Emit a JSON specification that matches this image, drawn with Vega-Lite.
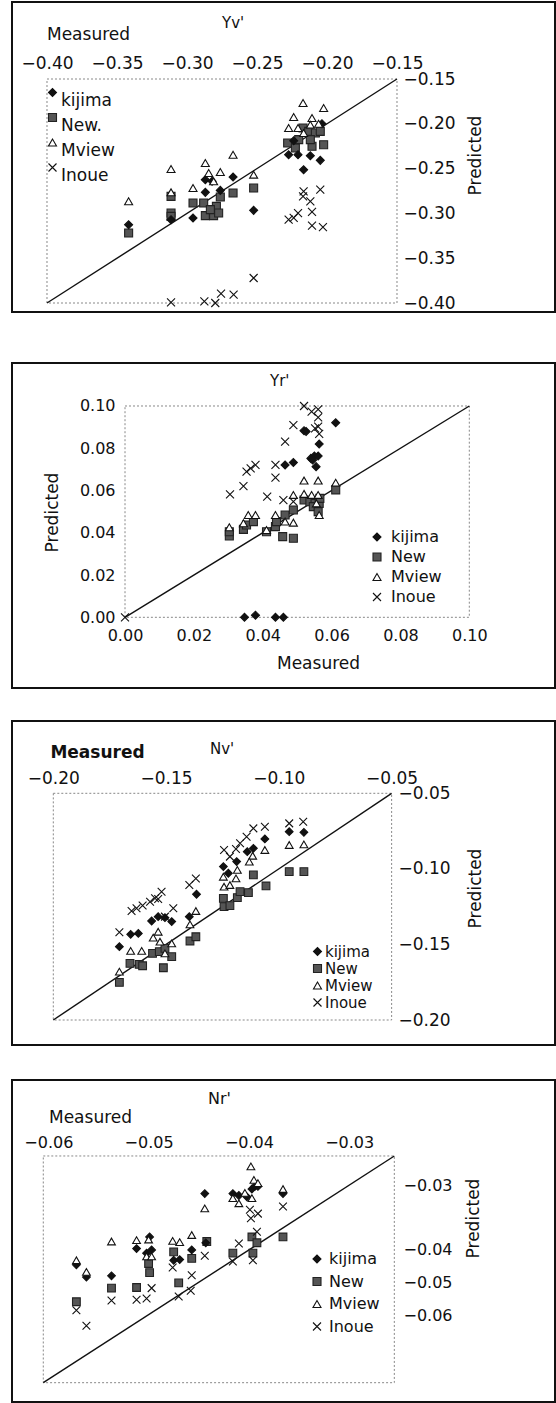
{
"$schema": "https://vega.github.io/schema/vega-lite/v6.json",
"padding": {"left": 11, "top": 1, "right": 0, "bottom": 0},
"background": "white",
"config": {
  "font": "DejaVu Sans",
  "view": {"stroke": "#111", "strokeWidth": 2},
  "axis": {"labelFont": "DejaVu Sans", "titleFont": "DejaVu Sans", "labelColor": "#111", "titleColor": "#111", "grid": false, "domain": false, "ticks": false, "labelFlush": false, "labelOverlap": false, "labelBound": false, "titleFontWeight": "normal", "titlePadding": 0, "format": ".2f"},
  "legend": {"labelFont": "DejaVu Sans", "labelColor": "#111", "padding": 0, "symbolSize": 64, "symbolStrokeWidth": 1.1, "orient": "none"},
  "title": {"font": "DejaVu Sans", "fontWeight": "normal", "color": "#111"}
},
"datasets": {
"p1": [
{"series":"New","measured":-0.3417,"predicted":-0.3219},{"series":"New","measured":-0.3114,"predicted":-0.2810},{"series":"New","measured":-0.3114,"predicted":-0.2996},{"series":"New","measured":-0.3114,"predicted":-0.3033},{"series":"New","measured":-0.2957,"predicted":-0.2884},{"series":"New","measured":-0.2881,"predicted":-0.2884},{"series":"New","measured":-0.2869,"predicted":-0.3025},{"series":"New","measured":-0.2810,"predicted":-0.3025},{"series":"New","measured":-0.2790,"predicted":-0.2921},{"series":"New","measured":-0.2762,"predicted":-0.2817},{"series":"New","measured":-0.2671,"predicted":-0.2772},{"series":"New","measured":-0.2524,"predicted":-0.2717},{"series":"New","measured":-0.2774,"predicted":-0.2996},{"series":"New","measured":-0.2833,"predicted":-0.2958},{"series":"New","measured":-0.2281,"predicted":-0.2214},{"series":"New","measured":-0.2226,"predicted":-0.2270},{"series":"New","measured":-0.2202,"predicted":-0.2177},{"series":"New","measured":-0.2171,"predicted":-0.2047},{"series":"New","measured":-0.2131,"predicted":-0.2084},{"series":"New","measured":-0.2107,"predicted":-0.2251},{"series":"New","measured":-0.2083,"predicted":-0.2103},{"series":"New","measured":-0.2048,"predicted":-0.2084},{"series":"New","measured":-0.2024,"predicted":-0.2233},{"series":"New","measured":-0.2119,"predicted":-0.2177},
{"series":"kijima","measured":-0.3417,"predicted":-0.3126},{"series":"kijima","measured":-0.3114,"predicted":-0.3070},{"series":"kijima","measured":-0.2957,"predicted":-0.3051},{"series":"kijima","measured":-0.2869,"predicted":-0.2624},{"series":"kijima","measured":-0.2869,"predicted":-0.2765},{"series":"kijima","measured":-0.2821,"predicted":-0.2642},{"series":"kijima","measured":-0.2762,"predicted":-0.2743},{"series":"kijima","measured":-0.2671,"predicted":-0.2594},{"series":"kijima","measured":-0.2524,"predicted":-0.2966},{"series":"kijima","measured":-0.2274,"predicted":-0.2345},{"series":"kijima","measured":-0.2207,"predicted":-0.2345},{"series":"kijima","measured":-0.2119,"predicted":-0.2356},{"series":"kijima","measured":-0.2048,"predicted":-0.2408},{"series":"kijima","measured":-0.2167,"predicted":-0.2512},{"series":"kijima","measured":-0.2036,"predicted":-0.1999},{"series":"kijima","measured":-0.2238,"predicted":-0.2190},
{"series":"Mview","measured":-0.3417,"predicted":-0.2865},{"series":"Mview","measured":-0.3114,"predicted":-0.2504},{"series":"Mview","measured":-0.3114,"predicted":-0.2765},{"series":"Mview","measured":-0.2957,"predicted":-0.2717},{"series":"Mview","measured":-0.2869,"predicted":-0.2438},{"series":"Mview","measured":-0.2762,"predicted":-0.2538},{"series":"Mview","measured":-0.2810,"predicted":-0.2642},{"series":"Mview","measured":-0.2845,"predicted":-0.2549},{"series":"Mview","measured":-0.2671,"predicted":-0.2345},{"series":"Mview","measured":-0.2524,"predicted":-0.2568},{"series":"Mview","measured":-0.2274,"predicted":-0.2047},{"series":"Mview","measured":-0.2238,"predicted":-0.1924},{"series":"Mview","measured":-0.2171,"predicted":-0.1768},{"series":"Mview","measured":-0.2207,"predicted":-0.2047},{"series":"Mview","measured":-0.2107,"predicted":-0.1935},{"series":"Mview","measured":-0.2119,"predicted":-0.2010},{"series":"Mview","measured":-0.2024,"predicted":-0.1824},{"series":"Mview","measured":-0.2060,"predicted":-0.1999},{"series":"Mview","measured":-0.2167,"predicted":-0.2103},
{"series":"Inoue","measured":-0.3114,"predicted":-0.3993},{"series":"Inoue","measured":-0.2876,"predicted":-0.3981},{"series":"Inoue","measured":-0.2798,"predicted":-0.4000},{"series":"Inoue","measured":-0.2757,"predicted":-0.3896},{"series":"Inoue","measured":-0.2667,"predicted":-0.3907},{"series":"Inoue","measured":-0.2524,"predicted":-0.3721},{"series":"Inoue","measured":-0.2274,"predicted":-0.3070},{"series":"Inoue","measured":-0.2238,"predicted":-0.3051},{"series":"Inoue","measured":-0.2207,"predicted":-0.2996},{"series":"Inoue","measured":-0.2167,"predicted":-0.2754},{"series":"Inoue","measured":-0.2171,"predicted":-0.2810},{"series":"Inoue","measured":-0.2119,"predicted":-0.2865},{"series":"Inoue","measured":-0.2107,"predicted":-0.2984},{"series":"Inoue","measured":-0.2107,"predicted":-0.3137},{"series":"Inoue","measured":-0.2048,"predicted":-0.2735},{"series":"Inoue","measured":-0.2029,"predicted":-0.3152}
],
"p2": [
{"series":"New","measured":0.0303,"predicted":0.0385},{"series":"New","measured":0.0303,"predicted":0.0405},{"series":"New","measured":0.0344,"predicted":0.0416},{"series":"New","measured":0.0353,"predicted":0.0437},{"series":"New","measured":0.0373,"predicted":0.0453},{"series":"New","measured":0.0411,"predicted":0.0405},{"series":"New","measured":0.0437,"predicted":0.0429},{"series":"New","measured":0.0440,"predicted":0.0453},{"series":"New","measured":0.0465,"predicted":0.0484},{"series":"New","measured":0.0458,"predicted":0.0382},{"series":"New","measured":0.0489,"predicted":0.0374},{"series":"New","measured":0.0489,"predicted":0.0508},{"series":"New","measured":0.0520,"predicted":0.0555},{"series":"New","measured":0.0537,"predicted":0.0547},{"series":"New","measured":0.0552,"predicted":0.0539},{"series":"New","measured":0.0547,"predicted":0.0524},{"series":"New","measured":0.0561,"predicted":0.0500},{"series":"New","measured":0.0564,"predicted":0.0539},{"series":"New","measured":0.0566,"predicted":0.0563},{"series":"New","measured":0.0612,"predicted":0.0603},
{"series":"kijima","measured":0.0347,"predicted":0.0},{"series":"kijima","measured":0.0379,"predicted":0.001},{"series":"kijima","measured":0.0437,"predicted":0.0},{"series":"kijima","measured":0.0460,"predicted":0.0},{"series":"kijima","measured":0.0465,"predicted":0.0721},{"series":"kijima","measured":0.0489,"predicted":0.0733},{"series":"kijima","measured":0.0520,"predicted":0.0883},{"series":"kijima","measured":0.0526,"predicted":0.0879},{"series":"kijima","measured":0.0540,"predicted":0.0752},{"series":"kijima","measured":0.0550,"predicted":0.0763},{"series":"kijima","measured":0.0555,"predicted":0.0713},{"series":"kijima","measured":0.0561,"predicted":0.0763},{"series":"kijima","measured":0.0564,"predicted":0.0820},{"series":"kijima","measured":0.0612,"predicted":0.0921},{"series":"kijima","measured":0.0545,"predicted":0.0745},
{"series":"Mview","measured":0.0303,"predicted":0.0426},{"series":"Mview","measured":0.0344,"predicted":0.0445},{"series":"Mview","measured":0.0358,"predicted":0.0484},{"series":"Mview","measured":0.0379,"predicted":0.0484},{"series":"Mview","measured":0.0437,"predicted":0.0484},{"series":"Mview","measured":0.0465,"predicted":0.0453},{"series":"Mview","measured":0.0489,"predicted":0.0448},{"series":"Mview","measured":0.0489,"predicted":0.0579},{"series":"Mview","measured":0.0520,"predicted":0.0647},{"series":"Mview","measured":0.0561,"predicted":0.0647},{"series":"Mview","measured":0.0520,"predicted":0.0584},{"series":"Mview","measured":0.0542,"predicted":0.0579},{"series":"Mview","measured":0.0561,"predicted":0.0579},{"series":"Mview","measured":0.0564,"predicted":0.0484},{"series":"Mview","measured":0.0612,"predicted":0.0637},{"series":"Mview","measured":0.0556,"predicted":0.0539},{"series":"Mview","measured":0.0411,"predicted":0.0413},
{"series":"Inoue","measured":0.0305,"predicted":0.0582},{"series":"Inoue","measured":0.0344,"predicted":0.0621},{"series":"Inoue","measured":0.0353,"predicted":0.0689},{"series":"Inoue","measured":0.0365,"predicted":0.0705},{"series":"Inoue","measured":0.0379,"predicted":0.0721},{"series":"Inoue","measured":0.0413,"predicted":0.0571},{"series":"Inoue","measured":0.0437,"predicted":0.0721},{"series":"Inoue","measured":0.0437,"predicted":0.0661},{"series":"Inoue","measured":0.0465,"predicted":0.0831},{"series":"Inoue","measured":0.0460,"predicted":0.0555},{"series":"Inoue","measured":0.0489,"predicted":0.0910},{"series":"Inoue","measured":0.0489,"predicted":0.0547},{"series":"Inoue","measured":0.0520,"predicted":0.1000},{"series":"Inoue","measured":0.0542,"predicted":0.0973},{"series":"Inoue","measured":0.0561,"predicted":0.0984},{"series":"Inoue","measured":0.0561,"predicted":0.0946},{"series":"Inoue","measured":0.0552,"predicted":0.0894},{"series":"Inoue","measured":0.0564,"predicted":0.0868},{"series":"Inoue","measured":0.0561,"predicted":0.0902},{"series":"Inoue","measured":0.0,"predicted":0.0}
],
"p3": [
{"series":"New","measured":-0.1707,"predicted":-0.1751},{"series":"New","measured":-0.1660,"predicted":-0.1625},{"series":"New","measured":-0.1619,"predicted":-0.1632},{"series":"New","measured":-0.1604,"predicted":-0.1641},{"series":"New","measured":-0.1560,"predicted":-0.1559},{"series":"New","measured":-0.1530,"predicted":-0.1548},{"series":"New","measured":-0.1512,"predicted":-0.1654},{"series":"New","measured":-0.1505,"predicted":-0.1526},{"series":"New","measured":-0.1475,"predicted":-0.1581},{"series":"New","measured":-0.1394,"predicted":-0.1477},{"series":"New","measured":-0.1368,"predicted":-0.1449},{"series":"New","measured":-0.1246,"predicted":-0.1195},{"series":"New","measured":-0.1243,"predicted":-0.1250},{"series":"New","measured":-0.1217,"predicted":-0.1243},{"series":"New","measured":-0.1184,"predicted":-0.1190},{"series":"New","measured":-0.1172,"predicted":-0.1151},{"series":"New","measured":-0.1135,"predicted":-0.1157},{"series":"New","measured":-0.1113,"predicted":-0.1040},{"series":"New","measured":-0.1057,"predicted":-0.1113},{"series":"New","measured":-0.0954,"predicted":-0.1018},{"series":"New","measured":-0.0889,"predicted":-0.1018},
{"series":"kijima","measured":-0.1707,"predicted":-0.1515},{"series":"kijima","measured":-0.1657,"predicted":-0.1433},{"series":"kijima","measured":-0.1623,"predicted":-0.1427},{"series":"kijima","measured":-0.1564,"predicted":-0.1345},{"series":"kijima","measured":-0.1535,"predicted":-0.1316},{"series":"kijima","measured":-0.1505,"predicted":-0.1323},{"series":"kijima","measured":-0.1475,"predicted":-0.1349},{"series":"kijima","measured":-0.1397,"predicted":-0.1316},{"series":"kijima","measured":-0.1365,"predicted":-0.1168},{"series":"kijima","measured":-0.1246,"predicted":-0.0985},{"series":"kijima","measured":-0.1224,"predicted":-0.1029},{"series":"kijima","measured":-0.1187,"predicted":-0.0952},{"series":"kijima","measured":-0.1140,"predicted":-0.0886},{"series":"kijima","measured":-0.1113,"predicted":-0.0864},{"series":"kijima","measured":-0.1062,"predicted":-0.0802},{"series":"kijima","measured":-0.0954,"predicted":-0.0754},{"series":"kijima","measured":-0.0889,"predicted":-0.0758},
{"series":"Mview","measured":-0.1707,"predicted":-0.1680},{"series":"Mview","measured":-0.1657,"predicted":-0.1543},{"series":"Mview","measured":-0.1608,"predicted":-0.1543},{"series":"Mview","measured":-0.1557,"predicted":-0.1455},{"series":"Mview","measured":-0.1535,"predicted":-0.1416},{"series":"Mview","measured":-0.1527,"predicted":-0.1482},{"series":"Mview","measured":-0.1505,"predicted":-0.1559},{"series":"Mview","measured":-0.1475,"predicted":-0.1493},{"series":"Mview","measured":-0.1394,"predicted":-0.1367},{"series":"Mview","measured":-0.1368,"predicted":-0.1279},{"series":"Mview","measured":-0.1246,"predicted":-0.1052},{"series":"Mview","measured":-0.1243,"predicted":-0.1118},{"series":"Mview","measured":-0.1217,"predicted":-0.1107},{"series":"Mview","measured":-0.1190,"predicted":-0.1063},{"series":"Mview","measured":-0.1184,"predicted":-0.1007},{"series":"Mview","measured":-0.1116,"predicted":-0.0913},{"series":"Mview","measured":-0.1131,"predicted":-0.0952},{"series":"Mview","measured":-0.1062,"predicted":-0.0875},{"series":"Mview","measured":-0.0954,"predicted":-0.0842},{"series":"Mview","measured":-0.0889,"predicted":-0.0838},
{"series":"Inoue","measured":-0.1707,"predicted":-0.1420},{"series":"Inoue","measured":-0.1653,"predicted":-0.1279},{"series":"Inoue","measured":-0.1631,"predicted":-0.1261},{"series":"Inoue","measured":-0.1604,"predicted":-0.1243},{"series":"Inoue","measured":-0.1571,"predicted":-0.1217},{"series":"Inoue","measured":-0.1549,"predicted":-0.1195},{"series":"Inoue","measured":-0.1520,"predicted":-0.1151},{"series":"Inoue","measured":-0.1535,"predicted":-0.1199},{"series":"Inoue","measured":-0.1505,"predicted":-0.1316},{"series":"Inoue","measured":-0.1468,"predicted":-0.1261},{"series":"Inoue","measured":-0.1397,"predicted":-0.1107},{"series":"Inoue","measured":-0.1368,"predicted":-0.1063},{"series":"Inoue","measured":-0.1243,"predicted":-0.0875},{"series":"Inoue","measured":-0.1217,"predicted":-0.0919},{"series":"Inoue","measured":-0.1190,"predicted":-0.0868},{"series":"Inoue","measured":-0.1172,"predicted":-0.0831},{"series":"Inoue","measured":-0.1143,"predicted":-0.0787},{"series":"Inoue","measured":-0.1113,"predicted":-0.0732},{"series":"Inoue","measured":-0.1062,"predicted":-0.0721},{"series":"Inoue","measured":-0.0954,"predicted":-0.0699},{"series":"Inoue","measured":-0.0892,"predicted":-0.0688}
],
"p4": [
{"series":"New","measured":-0.0572,"predicted":-0.0480},{"series":"New","measured":-0.0537,"predicted":-0.0459},{"series":"New","measured":-0.0512,"predicted":-0.0458},{"series":"New","measured":-0.0499,"predicted":-0.0435},{"series":"New","measured":-0.0500,"predicted":-0.0421},{"series":"New","measured":-0.0475,"predicted":-0.0403},{"series":"New","measured":-0.0470,"predicted":-0.0451},{"series":"New","measured":-0.0457,"predicted":-0.0413},{"series":"New","measured":-0.0442,"predicted":-0.0387},{"series":"New","measured":-0.0416,"predicted":-0.0405},{"series":"New","measured":-0.0397,"predicted":-0.0380},{"series":"New","measured":-0.0392,"predicted":-0.0389},{"series":"New","measured":-0.0396,"predicted":-0.0405},{"series":"New","measured":-0.0366,"predicted":-0.0380},
{"series":"kijima","measured":-0.0572,"predicted":-0.0423},{"series":"kijima","measured":-0.0562,"predicted":-0.0442},{"series":"kijima","measured":-0.0537,"predicted":-0.0440},{"series":"kijima","measured":-0.0512,"predicted":-0.0398},{"series":"kijima","measured":-0.0499,"predicted":-0.0380},{"series":"kijima","measured":-0.0502,"predicted":-0.0405},{"series":"kijima","measured":-0.0497,"predicted":-0.0400},{"series":"kijima","measured":-0.0475,"predicted":-0.0416},{"series":"kijima","measured":-0.0469,"predicted":-0.0415},{"series":"kijima","measured":-0.0457,"predicted":-0.0400},{"series":"kijima","measured":-0.0443,"predicted":-0.0389},{"series":"kijima","measured":-0.0444,"predicted":-0.0313},{"series":"kijima","measured":-0.0416,"predicted":-0.0313},{"series":"kijima","measured":-0.0410,"predicted":-0.0316},{"series":"kijima","measured":-0.0402,"predicted":-0.0318},{"series":"kijima","measured":-0.0397,"predicted":-0.0306},{"series":"kijima","measured":-0.0394,"predicted":-0.0302},{"series":"kijima","measured":-0.0391,"predicted":-0.0302},{"series":"kijima","measured":-0.0366,"predicted":-0.0313},
{"series":"Mview","measured":-0.0572,"predicted":-0.0416},{"series":"Mview","measured":-0.0562,"predicted":-0.0434},{"series":"Mview","measured":-0.0537,"predicted":-0.0387},{"series":"Mview","measured":-0.0512,"predicted":-0.0385},{"series":"Mview","measured":-0.0500,"predicted":-0.0384},{"series":"Mview","measured":-0.0502,"predicted":-0.0410},{"series":"Mview","measured":-0.0497,"predicted":-0.0410},{"series":"Mview","measured":-0.0476,"predicted":-0.0386},{"series":"Mview","measured":-0.0469,"predicted":-0.0388},{"series":"Mview","measured":-0.0457,"predicted":-0.0377},{"series":"Mview","measured":-0.0444,"predicted":-0.0336},{"series":"Mview","measured":-0.0416,"predicted":-0.0320},{"series":"Mview","measured":-0.0410,"predicted":-0.0328},{"series":"Mview","measured":-0.0404,"predicted":-0.0312},{"series":"Mview","measured":-0.0398,"predicted":-0.0271},{"series":"Mview","measured":-0.0397,"predicted":-0.0320},{"series":"Mview","measured":-0.0395,"predicted":-0.0292},{"series":"Mview","measured":-0.0391,"predicted":-0.0297},{"series":"Mview","measured":-0.0366,"predicted":-0.0306},
{"series":"Inoue","measured":-0.0572,"predicted":-0.0493},{"series":"Inoue","measured":-0.0562,"predicted":-0.0517},{"series":"Inoue","measured":-0.0537,"predicted":-0.0478},{"series":"Inoue","measured":-0.0512,"predicted":-0.0477},{"series":"Inoue","measured":-0.0502,"predicted":-0.0475},{"series":"Inoue","measured":-0.0497,"predicted":-0.0459},{"series":"Inoue","measured":-0.0476,"predicted":-0.0427},{"series":"Inoue","measured":-0.0470,"predicted":-0.0472},{"series":"Inoue","measured":-0.0458,"predicted":-0.0463},{"series":"Inoue","measured":-0.0457,"predicted":-0.0439},{"series":"Inoue","measured":-0.0444,"predicted":-0.0409},{"series":"Inoue","measured":-0.0416,"predicted":-0.0418},{"series":"Inoue","measured":-0.0410,"predicted":-0.0390},{"series":"Inoue","measured":-0.0399,"predicted":-0.0338},{"series":"Inoue","measured":-0.0398,"predicted":-0.0351},{"series":"Inoue","measured":-0.0391,"predicted":-0.0344},{"series":"Inoue","measured":-0.0392,"predicted":-0.0372},{"series":"Inoue","measured":-0.0396,"predicted":-0.0416},{"series":"Inoue","measured":-0.0366,"predicted":-0.0333}
]
},
"spacing": 31,
"resolve": {"scale": {"x": "independent", "y": "independent", "shape": "independent", "fill": "independent", "stroke": "independent"}, "legend": {"shape": "independent", "fill": "independent", "stroke": "independent"}},
"vconcat": [
{
"spacing": 49,
"resolve": {"scale": {"x": "independent", "y": "independent", "shape": "independent", "fill": "independent", "stroke": "independent"}, "legend": {"shape": "independent", "fill": "independent", "stroke": "independent"}},
"vconcat": [
{
 "width": 543, "height": 310,
 "title": {"text": "Yv'", "anchor": "start", "frame": "group", "dx": 210, "offset": -29, "fontSize": 15},
 "layer": [
  {"data": {"values": [{}]}, "mark": {"type": "rect", "fill": "transparent", "stroke": "#888", "strokeWidth": 1, "strokeDash": [2, 2]},
   "encoding": {"x": {"datum": -0.40, "type": "quantitative", "scale": {"domain": [-0.425, -0.03714], "nice": false, "zero": false}}, "x2": {"datum": -0.15}, "y": {"datum": -0.40, "type": "quantitative", "scale": {"domain": [-0.41004, -0.06406], "nice": false, "zero": false}}, "y2": {"datum": -0.15}}},
  {"data": {"values": [{}]}, "mark": {"type": "rule", "color": "#111", "strokeWidth": 1.4},
   "encoding": {"x": {"datum": -0.40, "type": "quantitative", "scale": {"domain": [-0.425, -0.03714], "nice": false, "zero": false}}, "x2": {"datum": -0.15}, "y": {"datum": -0.40, "type": "quantitative", "scale": {"domain": [-0.41004, -0.06406], "nice": false, "zero": false}}, "y2": {"datum": -0.15}}},
  {"data": {"name": "p1"}, "mark": {"type": "point", "size": 64, "opacity": 1, "filled": true, "strokeWidth": 1.1},
   "encoding": {
    "x": {"field": "measured", "type": "quantitative", "scale": {"domain": [-0.425, -0.03714], "nice": false, "zero": false},
      "axis": {"orient": "top", "offset": -77, "values": [-0.40, -0.35, -0.30, -0.25, -0.20, -0.15], "labelFontSize": 17, "labelPadding": 7, "title": "Measured", "titleFontSize": 17, "titleX": 76, "titleY": -45, "titleAlign": "center", "titleBaseline": "middle"}},
    "y": {"field": "predicted", "type": "quantitative", "scale": {"domain": [-0.41004, -0.06406], "nice": false, "zero": false},
      "axis": {"orient": "right", "offset": -158, "values": [-0.40, -0.35, -0.30, -0.25, -0.20, -0.15], "labelFontSize": 17, "labelPadding": 6, "title": "Predicted", "titleFontSize": 17, "titleX": 78, "titleY": 153, "titleAngle": 270, "titleAlign": "center", "titleBaseline": "middle"}},
    "shape": {"field": "series", "type": "nominal", "scale": {"domain": ["kijima", "New", "Mview", "Inoue"], "range": ["diamond", "square", "triangle-up", "M-1,-1L1,1M1,-1L-1,1"]},
      "legend": {"legendX": 32, "legendY": 82, "title": null, "labelFontSize": 17, "rowPadding": -2, "labelOffset": 0, "labelBaseline": "top", "labelExpr": "datum.label == 'New' ? 'New.' : datum.label"}},
    "fill": {"field": "series", "type": "nominal", "scale": {"domain": ["kijima", "New", "Mview", "Inoue"], "range": ["#111", "#555", "white", "transparent"]},
      "legend": {"legendX": 32, "legendY": 82, "title": null, "labelFontSize": 17, "rowPadding": -2, "labelOffset": 0, "labelBaseline": "top", "labelExpr": "datum.label == 'New' ? 'New.' : datum.label"}},
    "stroke": {"field": "series", "type": "nominal", "scale": {"domain": ["kijima", "New", "Mview", "Inoue"], "range": ["#111", "#222", "#111", "#111"]},
      "legend": {"legendX": 32, "legendY": 82, "title": null, "labelFontSize": 17, "rowPadding": -2, "labelOffset": 0, "labelBaseline": "top", "labelExpr": "datum.label == 'New' ? 'New.' : datum.label"}}
   }}
 ]
},
{
 "width": 543, "height": 325,
 "title": {"text": "Yr'", "anchor": "start", "frame": "group", "dx": 258, "offset": -26, "fontSize": 15},
 "layer": [
  {"data": {"values": [{}]}, "mark": {"type": "rect", "fill": "transparent", "stroke": "#888", "strokeWidth": 1, "strokeDash": [2, 2]},
   "encoding": {"x": {"datum": 0, "type": "quantitative", "scale": {"domain": [-0.03282, 0.12489], "nice": false, "zero": false}}, "x2": {"datum": 0.10}, "y": {"datum": 0, "type": "quantitative", "scale": {"domain": [-0.03346, 0.12035], "nice": false, "zero": false}}, "y2": {"datum": 0.10}}},
  {"data": {"values": [{}]}, "mark": {"type": "rule", "color": "#111", "strokeWidth": 1.4},
   "encoding": {"x": {"datum": 0, "type": "quantitative", "scale": {"domain": [-0.03282, 0.12489], "nice": false, "zero": false}}, "x2": {"datum": 0.10}, "y": {"datum": 0, "type": "quantitative", "scale": {"domain": [-0.03346, 0.12035], "nice": false, "zero": false}}, "y2": {"datum": 0.10}}},
  {"data": {"name": "p2"}, "mark": {"type": "point", "size": 64, "opacity": 1, "filled": true, "strokeWidth": 1.1},
   "encoding": {
    "x": {"field": "measured", "type": "quantitative", "scale": {"domain": [-0.03282, 0.12489], "nice": false, "zero": false},
      "axis": {"orient": "bottom", "offset": -71, "values": [0, 0.02, 0.04, 0.06, 0.08, 0.10], "labelFontSize": 16, "labelPadding": 10, "title": "Measured", "titleFontSize": 17, "titleX": 306, "titleY": 46, "titleAlign": "center", "titleBaseline": "middle"}},
    "y": {"field": "predicted", "type": "quantitative", "scale": {"domain": [-0.03346, 0.12035], "nice": false, "zero": false},
      "axis": {"orient": "left", "offset": -113, "values": [0, 0.02, 0.04, 0.06, 0.08, 0.10], "labelFontSize": 16, "labelPadding": 10, "title": "Predicted", "titleFontSize": 17, "titleX": -73, "titleY": 149, "titleAngle": 270, "titleAlign": "center", "titleBaseline": "middle"}},
    "shape": {"field": "series", "type": "nominal", "scale": {"domain": ["kijima", "New", "Mview", "Inoue"], "range": ["diamond", "square", "triangle-up", "M-1,-1L1,1M1,-1L-1,1"]},
      "legend": {"legendX": 357, "legendY": 166, "title": null, "labelFontSize": 16, "rowPadding": 4, "labelOffset": 6}},
    "fill": {"field": "series", "type": "nominal", "scale": {"domain": ["kijima", "New", "Mview", "Inoue"], "range": ["#111", "#555", "white", "transparent"]},
      "legend": {"legendX": 357, "legendY": 166, "title": null, "labelFontSize": 16, "rowPadding": 4, "labelOffset": 6}},
    "stroke": {"field": "series", "type": "nominal", "scale": {"domain": ["kijima", "New", "Mview", "Inoue"], "range": ["#111", "#222", "#111", "#111"]},
      "legend": {"legendX": 357, "legendY": 166, "title": null, "labelFontSize": 16, "rowPadding": 4, "labelOffset": 6}}
   }}
 ]
}
]
},
{
"spacing": 33,
"resolve": {"scale": {"x": "independent", "y": "independent", "shape": "independent", "fill": "independent", "stroke": "independent"}, "legend": {"shape": "independent", "fill": "independent", "stroke": "independent"}},
"vconcat": [
{
 "width": 543, "height": 324,
 "title": {"text": "Nv'", "anchor": "start", "frame": "group", "dx": 198, "offset": -36, "fontSize": 15},
 "layer": [
  {"data": {"values": [{}]}, "mark": {"type": "rect", "fill": "transparent", "stroke": "#888", "strokeWidth": 1, "strokeDash": [2, 2]},
   "encoding": {"x": {"datum": -0.20, "type": "quantitative", "scale": {"domain": [-0.21831, 0.02243], "nice": false, "zero": false}}, "x2": {"datum": -0.05}, "y": {"datum": -0.20, "type": "quantitative", "scale": {"domain": [-0.21654, -0.002155], "nice": false, "zero": false}}, "y2": {"datum": -0.05}}},
  {"data": {"values": [{}]}, "mark": {"type": "rule", "color": "#111", "strokeWidth": 1.4},
   "encoding": {"x": {"datum": -0.20, "type": "quantitative", "scale": {"domain": [-0.21831, 0.02243], "nice": false, "zero": false}}, "x2": {"datum": -0.05}, "y": {"datum": -0.20, "type": "quantitative", "scale": {"domain": [-0.21654, -0.002155], "nice": false, "zero": false}}, "y2": {"datum": -0.05}}},
  {"data": {"name": "p3"}, "mark": {"type": "point", "size": 60, "opacity": 1, "filled": true, "strokeWidth": 1.1},
   "encoding": {
    "x": {"field": "measured", "type": "quantitative", "scale": {"domain": [-0.21831, 0.02243], "nice": false, "zero": false},
      "axis": {"orient": "top", "offset": -72, "values": [-0.20, -0.15, -0.10, -0.05], "labelFontSize": 17, "labelPadding": 6, "title": "Measured", "titleFontSize": 17, "titleFontWeight": "bold", "titleX": 85, "titleY": -41, "titleAlign": "center", "titleBaseline": "middle"}},
    "y": {"field": "predicted", "type": "quantitative", "scale": {"domain": [-0.21654, -0.002155], "nice": false, "zero": false},
      "axis": {"orient": "right", "offset": -163, "values": [-0.20, -0.15, -0.10, -0.05], "labelFontSize": 17, "labelPadding": 6, "title": "Predicted", "titleFontSize": 17, "titleX": 83, "titleY": 167, "titleAngle": 270, "titleAlign": "center", "titleBaseline": "middle"}},
    "shape": {"field": "series", "type": "nominal", "scale": {"domain": ["kijima", "New", "Mview", "Inoue"], "range": ["diamond", "square", "triangle-up", "M-1,-1L1,1M1,-1L-1,1"]},
      "legend": {"legendX": 298, "legendY": 223, "title": null, "labelFontSize": 15, "rowPadding": 1, "labelOffset": 0}},
    "fill": {"field": "series", "type": "nominal", "scale": {"domain": ["kijima", "New", "Mview", "Inoue"], "range": ["#111", "#555", "white", "transparent"]},
      "legend": {"legendX": 298, "legendY": 223, "title": null, "labelFontSize": 15, "rowPadding": 1, "labelOffset": 0}},
    "stroke": {"field": "series", "type": "nominal", "scale": {"domain": ["kijima", "New", "Mview", "Inoue"], "range": ["#111", "#222", "#111", "#111"]},
      "legend": {"legendX": 298, "legendY": 223, "title": null, "labelFontSize": 15, "rowPadding": 1, "labelOffset": 0}}
   }}
 ]
},
{
 "width": 543, "height": 322,
 "title": {"text": "Nr'", "anchor": "start", "frame": "group", "dx": 196, "offset": -27, "fontSize": 16},
 "layer": [
  {"data": {"values": [{}]}, "mark": {"type": "rect", "fill": "transparent", "stroke": "#888", "strokeWidth": 1, "strokeDash": [2, 2]},
   "encoding": {"x": {"datum": -0.0605, "type": "quantitative", "scale": {"domain": [-0.06362, -0.00948], "nice": false, "zero": false}}, "x2": {"datum": -0.0255}, "y": {"datum": -0.0605, "type": "quantitative", "scale": {"domain": [-0.06348, -0.01377], "nice": false, "zero": false}}, "y2": {"datum": -0.0255}}},
  {"data": {"values": [{}]}, "mark": {"type": "rule", "color": "#111", "strokeWidth": 1.4},
   "encoding": {"x": {"datum": -0.0605, "type": "quantitative", "scale": {"domain": [-0.06362, -0.00948], "nice": false, "zero": false}}, "x2": {"datum": -0.0255}, "y": {"datum": -0.0605, "type": "quantitative", "scale": {"domain": [-0.06348, -0.01377], "nice": false, "zero": false}}, "y2": {"datum": -0.0255}}},
  {"data": {"name": "p4"}, "mark": {"type": "point", "size": 60, "opacity": 1, "filled": true, "strokeWidth": 1.1},
   "encoding": {
    "x": {"field": "measured", "type": "quantitative", "scale": {"domain": [-0.06362, -0.00948], "nice": false, "zero": false},
      "axis": {"orient": "top", "offset": -76, "values": [-0.06, -0.05, -0.04, -0.03], "labelFontSize": 16, "labelPadding": 6, "title": "Measured", "titleFontSize": 17, "titleX": 78, "titleY": -39, "titleAlign": "center", "titleBaseline": "middle"}},
    "y": {"field": "predicted", "type": "quantitative", "scale": {"domain": [-0.06348, -0.01377], "nice": false, "zero": false},
      "axis": {"orient": "right", "offset": -161, "values": [-0.03, -0.04, -0.0451, -0.05005], "labelExpr": "datum.value < -0.05 ? '\u22120.06' : datum.label", "labelFontSize": 16, "labelPadding": 9, "title": "Predicted", "titleFontSize": 17, "titleX": 79, "titleY": 138, "titleAngle": 270, "titleAlign": "center", "titleBaseline": "middle"}},
    "shape": {"field": "series", "type": "nominal", "scale": {"domain": ["kijima", "New", "Mview", "Inoue"], "range": ["diamond", "square", "triangle-up", "M-1,-1L1,1M1,-1L-1,1"]},
      "legend": {"legendX": 297, "legendY": 171, "title": null, "labelFontSize": 16, "rowPadding": 6.5, "labelOffset": 4}},
    "fill": {"field": "series", "type": "nominal", "scale": {"domain": ["kijima", "New", "Mview", "Inoue"], "range": ["#111", "#555", "white", "transparent"]},
      "legend": {"legendX": 297, "legendY": 171, "title": null, "labelFontSize": 16, "rowPadding": 6.5, "labelOffset": 4}},
    "stroke": {"field": "series", "type": "nominal", "scale": {"domain": ["kijima", "New", "Mview", "Inoue"], "range": ["#111", "#222", "#111", "#111"]},
      "legend": {"legendX": 297, "legendY": 171, "title": null, "labelFontSize": 16, "rowPadding": 6.5, "labelOffset": 4}}
   }}
 ]
}
]
}
]
}
